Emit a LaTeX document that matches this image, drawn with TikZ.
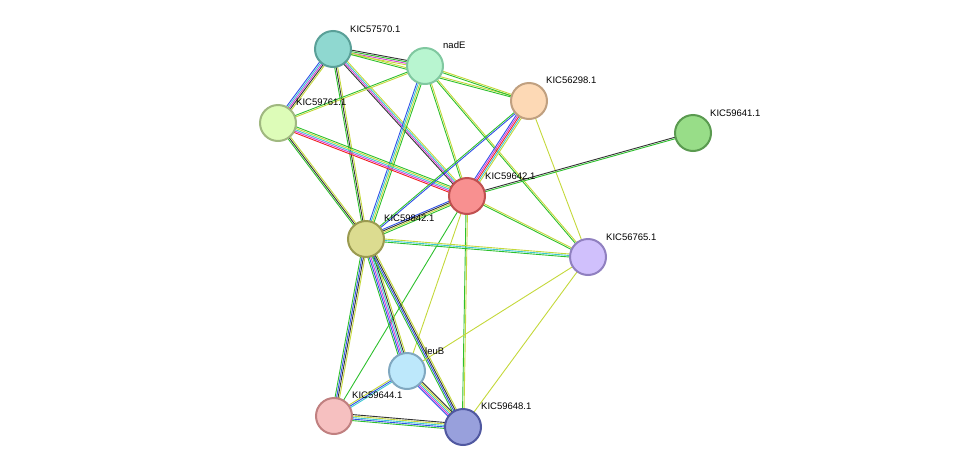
\documentclass[tikz,border=0pt]{standalone}
\usepackage{fontspec}
\setmainfont{Liberation Sans}
\usetikzlibrary{calc,backgrounds}
\definecolor{tm}{HTML}{C4D83A}
\definecolor{nb}{HTML}{2DC02D}
\definecolor{ex}{HTML}{D63CD6}
\definecolor{db}{HTML}{3CC8D0}
\definecolor{co}{HTML}{333333}
\definecolor{bl}{HTML}{3050E8}
\definecolor{fu}{HTML}{F02020}
\tikzset{prot/.style={circle,minimum size=36pt,inner sep=0pt,line width=2pt},
 lab/.style={anchor=base west,font=\fontsize{9.5}{11}\selectfont,inner sep=0pt}}
\newcommand\sedge[3]{%
 \gdef\nn{0}\foreach \c in {#3}{\xdef\nn{\the\numexpr\nn+1\relax}}%
 \foreach \c [count=\i] in {#3}{\pgfmathsetmacro\off{(\i-(\nn+1)/2)*1.5}%
 \draw[\c,line width=0.9pt] ($(#1)!\off pt!90:(#2)$) -- ($(#2)!\off pt!-90:(#1)$);}}
\begin{document}
\begin{tikzpicture}[x=1pt,y=-1pt]
\useasboundingbox (0,0) rectangle (975,472);
\def\P#1#2#3#4#5#6{\node[prot,fill={[HTML]#4},draw={[HTML]#5}] (#1) at (#2,#3) {};
 \node[lab] (#1l) at (#2+18,#3-18) {#6};}
\node[prot,fill={rgb,255:red,143;green,216;blue,208},draw={rgb,255:red,90;green,160;blue,152}] (a) at (333,49) {};
\node[prot,fill={rgb,255:red,184;green,245;blue,208},draw={rgb,255:red,128;green,200;blue,160}] (b) at (425,66) {};
\node[prot,fill={rgb,255:red,253;green,217;blue,181},draw={rgb,255:red,192;green,160;blue,128}] (c) at (529,101) {};
\node[prot,fill={rgb,255:red,221;green,252;blue,184},draw={rgb,255:red,160;green,184;blue,128}] (d) at (278,123) {};
\node[prot,fill={rgb,255:red,152;green,221;blue,136},draw={rgb,255:red,90;green,154;blue,80}] (e) at (693,133) {};
\node[prot,fill={rgb,255:red,248;green,144;blue,144},draw={rgb,255:red,192;green,80;blue,80}] (f) at (467,196) {};
\node[prot,fill={rgb,255:red,220;green,220;blue,144},draw={rgb,255:red,154;green,154;blue,80}] (g) at (366,239) {};
\node[prot,fill={rgb,255:red,208;green,192;blue,252},draw={rgb,255:red,144;green,128;blue,192}] (h) at (588,257) {};
\node[prot,fill={rgb,255:red,189;green,232;blue,251},draw={rgb,255:red,128;green,168;blue,192}] (i) at (407,371) {};
\node[prot,fill={rgb,255:red,246;green,192;blue,192},draw={rgb,255:red,192;green,128;blue,128}] (j) at (334,416) {};
\node[prot,fill={rgb,255:red,152;green,160;blue,220},draw={rgb,255:red,80;green,88;blue,160}] (k) at (463,427) {};
\node[lab] (al) at (350,32) {KIC57570.1};
\node[lab] (bl) at (443,48) {nadE};
\node[lab] (cl) at (546,83) {KIC56298.1};
\node[lab] (dl) at (296,105) {KIC59761.1};
\node[lab] (el) at (710,116) {KIC59641.1};
\node[lab] (fl) at (485,179) {KIC59642.1};
\node[lab] (gl) at (384,221) {KIC59842.1};
\node[lab] (hl) at (606,240) {KIC56765.1};
\node[lab] (il) at (425,354) {leuB};
\node[lab] (jl) at (352,398) {KIC59644.1};
\node[lab] (kl) at (481,409) {KIC59648.1};
\begin{pgfonlayer}{background}
\sedge{a}{b}{tm,ex,nb,co}
\sedge{a}{d}{bl,db,ex,co,tm}
\sedge{a}{f}{co,ex,db,tm}
\sedge{a}{g}{nb,co,tm}
\sedge{a}{c}{nb,tm}
\sedge{b}{d}{nb,tm}
\sedge{b}{c}{nb,tm}
\sedge{b}{f}{nb,tm}
\sedge{b}{g}{bl,db,tm,nb}
\sedge{b}{h}{nb,tm}
\sedge{d}{f}{fu,ex,db,tm,nb}
\sedge{d}{g}{nb,co,tm}
\sedge{c}{f}{bl,ex,fu,db,tm}
\sedge{c}{g}{nb,bl}
\sedge{c}{h}{tm}
\sedge{e}{f}{co,nb}
\sedge{f}{g}{bl,co,tm,nb}
\sedge{f}{h}{nb,tm}
\sedge{f}{i}{tm}
\sedge{f}{k}{nb,tm}
\sedge{f}{j}{nb}
\sedge{g}{h}{nb,db,tm}
\sedge{g}{i}{nb,bl,ex,db,co,tm}
\sedge{g}{k}{nb,bl,co,tm}
\sedge{g}{j}{nb,bl,co,tm}
\sedge{i}{j}{tm,bl,db}
\sedge{i}{k}{bl,ex,db,tm,co}
\sedge{j}{k}{nb,bl,db,tm,co}
\sedge{h}{i}{tm}
\sedge{h}{k}{tm}
\end{pgfonlayer}
\end{tikzpicture}
\end{document}
